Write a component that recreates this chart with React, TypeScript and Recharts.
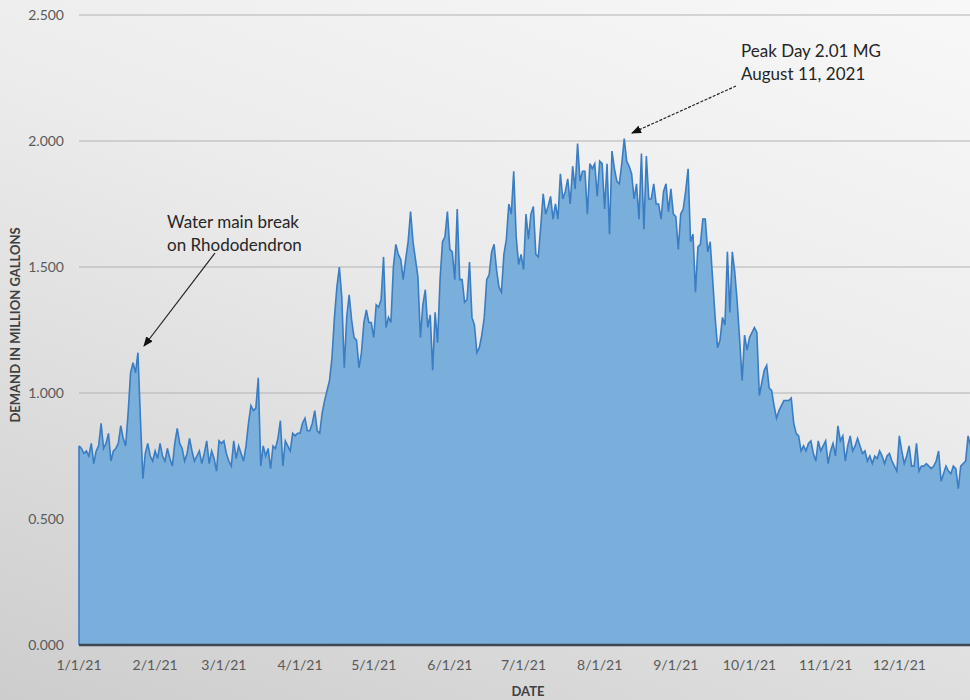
import React from 'react';
import { AreaChart, Area, XAxis, YAxis, CartesianGrid, ReferenceLine } from 'recharts';

// Daily demand in million gallons, 2021
const jan = [0.79, 0.78, 0.76, 0.77, 0.75, 0.80, 0.72, 0.77, 0.79, 0.88, 0.78, 0.80, 0.84, 0.73, 0.77, 0.78, 0.80, 0.87, 0.82, 0.79, 0.92, 1.08, 1.12, 1.08, 1.16, 0.90, 0.66, 0.76, 0.80, 0.75, 0.73];
const feb = [0.77, 0.74, 0.80, 0.75, 0.73, 0.78, 0.74, 0.71, 0.80, 0.86, 0.80, 0.78, 0.73, 0.76, 0.82, 0.77, 0.73, 0.75, 0.77, 0.72, 0.76, 0.81, 0.72, 0.77, 0.74, 0.69, 0.81, 0.80];
const mar = [0.81, 0.76, 0.73, 0.71, 0.81, 0.74, 0.79, 0.76, 0.73, 0.79, 0.88, 0.95, 0.93, 0.94, 1.06, 0.71, 0.79, 0.75, 0.78, 0.70, 0.79, 0.78, 0.82, 0.89, 0.71, 0.81, 0.79, 0.77, 0.84, 0.83, 0.84];
const apr = [0.84, 0.88, 0.90, 0.85, 0.85, 0.88, 0.93, 0.85, 0.84, 0.92, 0.97, 1.01, 1.05, 1.14, 1.30, 1.42, 1.50, 1.38, 1.10, 1.30, 1.39, 1.29, 1.22, 1.21, 1.10, 1.16, 1.28, 1.33, 1.28, 1.28];
const may = [1.22, 1.35, 1.34, 1.37, 1.54, 1.26, 1.30, 1.28, 1.50, 1.59, 1.55, 1.53, 1.45, 1.53, 1.60, 1.72, 1.60, 1.53, 1.46, 1.22, 1.35, 1.41, 1.26, 1.31, 1.09, 1.32, 1.20, 1.45, 1.60, 1.62, 1.72];
const jun = [1.57, 1.56, 1.45, 1.73, 1.45, 1.45, 1.36, 1.37, 1.52, 1.30, 1.27, 1.16, 1.18, 1.23, 1.30, 1.45, 1.47, 1.56, 1.59, 1.49, 1.42, 1.40, 1.55, 1.61, 1.75, 1.71, 1.88, 1.62, 1.51, 1.55];
const jul = [1.49, 1.71, 1.61, 1.71, 1.74, 1.55, 1.54, 1.66, 1.79, 1.71, 1.74, 1.78, 1.69, 1.75, 1.69, 1.87, 1.77, 1.80, 1.85, 1.75, 1.90, 1.81, 1.99, 1.84, 1.88, 1.88, 1.71, 1.91, 1.89, 1.91, 1.78];
const aug = [1.92, 1.91, 1.73, 1.91, 1.63, 1.96, 1.89, 1.84, 1.83, 1.91, 2.01, 1.92, 1.90, 1.87, 1.77, 1.83, 1.69, 1.95, 1.65, 1.94, 1.77, 1.77, 1.83, 1.75, 1.75, 1.69, 1.80, 1.83, 1.72, 1.81, 1.71];
const sep = [1.70, 1.57, 1.71, 1.73, 1.80, 1.89, 1.60, 1.63, 1.40, 1.58, 1.59, 1.69, 1.69, 1.56, 1.60, 1.45, 1.30, 1.18, 1.21, 1.30, 1.27, 1.56, 1.32, 1.56, 1.48, 1.36, 1.21, 1.05, 1.23, 1.17];
const oct = [1.22, 1.24, 1.26, 1.24, 0.99, 1.04, 1.09, 1.11, 1.02, 1.01, 0.95, 0.90, 0.93, 0.95, 0.97, 0.97, 0.97, 0.98, 0.88, 0.84, 0.83, 0.77, 0.79, 0.77, 0.80, 0.81, 0.76, 0.73, 0.81, 0.77, 0.79];
const nov = [0.81, 0.72, 0.77, 0.80, 0.75, 0.87, 0.81, 0.83, 0.73, 0.79, 0.83, 0.77, 0.79, 0.82, 0.79, 0.76, 0.77, 0.73, 0.75, 0.72, 0.75, 0.74, 0.77, 0.75, 0.72, 0.75, 0.76, 0.73, 0.71, 0.69];
const dec = [0.83, 0.77, 0.72, 0.75, 0.79, 0.71, 0.71, 0.80, 0.69, 0.71, 0.71, 0.72, 0.71, 0.70, 0.71, 0.73, 0.77, 0.65, 0.68, 0.71, 0.69, 0.68, 0.71, 0.70, 0.62, 0.71, 0.72, 0.73, 0.83, 0.79, 0.80];

const monthStartDays = [0, 31, 59, 90, 120, 151, 181, 212, 243, 273, 304, 334];
const monthTickLabels = ['1/1/21', '2/1/21', '3/1/21', '4/1/21', '5/1/21', '6/1/21', '7/1/21', '8/1/21', '9/1/21', '10/1/21', '11/1/21', '12/1/21'];
const yTicks = [0, 0.5, 1, 1.5, 2, 2.5];
const yTickLabels = ['0.000', '0.500', '1.000', '1.500', '2.000', '2.500'];

const demand = [...jan, ...feb, ...mar, ...apr, ...may, ...jun, ...jul, ...aug, ...sep, ...oct, ...nov, ...dec];
const data = demand.map((v, i) => ({ day: i, demand: v }));

const tickStyle = { fill: '#5a5a5a', fontSize: 14, fontFamily: 'Lato, "Open Sans", sans-serif' };
const noteStyle: React.CSSProperties = { fontFamily: 'Lato, "Open Sans", sans-serif', fontSize: 17, fill: '#262626' };
const titleStyle: React.CSSProperties = { fontFamily: 'Lato, "Open Sans", sans-serif', fontSize: 13, fontWeight: 700, fill: '#404040' };

export default function App() {
  return (
    <div
      style={{
        position: 'fixed',
        left: 0,
        top: 0,
        width: 970,
        height: 700,
        overflow: 'hidden',
        background: 'linear-gradient(200deg, #f8f8f8 0%, #ececec 40%, #dadada 75%, #cdcdcd 100%)',
      }}
    >
      <AreaChart
        width={980}
        height={700}
        data={data}
        margin={{ top: 15, right: 7, bottom: 0, left: 0 }}
      >
        <CartesianGrid horizontal vertical={false} stroke="#b2b2b2" strokeWidth={1} />
        <XAxis
          type="number"
          dataKey="day"
          domain={[0, 364]}
          ticks={monthStartDays}
          interval={0}
          tickFormatter={(v: number) => monthTickLabels[monthStartDays.indexOf(v)]}
          axisLine={{ stroke: '#3e4852', strokeWidth: 2.5 }}
          tickLine={false}
          tickSize={0}
          tickMargin={15}
          height={55}
          tick={tickStyle}
        />
        <YAxis
          type="number"
          domain={[0, 2.5]}
          ticks={yTicks}
          tickFormatter={(v: number) => yTickLabels[yTicks.indexOf(v)]}
          axisLine={false}
          tickLine={false}
          tickSize={0}
          tickMargin={15}
          width={79}
          tick={tickStyle}
        />
        <Area
          type="linear"
          dataKey="demand"
          stroke="#3a7dc2"
          strokeWidth={1.6}
          fill="#7aaedb"
          fillOpacity={1}
          dot={false}
          activeDot={false}
          isAnimationActive={false}
        />
        <ReferenceLine
          segment={[{ x: 0, y: 0 }, { x: 0, y: demand[0] }]}
          stroke="#3a7dc2"
          strokeWidth={1.6}
        />
      </AreaChart>
      <svg
        width={970}
        height={700}
        style={{ position: 'absolute', left: 0, top: 0, pointerEvents: 'none' }}
      >
        <defs>
          <marker id="ah" markerWidth="10" markerHeight="8" refX="9" refY="4" orient="auto" markerUnits="userSpaceOnUse">
            <path d="M0,0 L10,4 L0,8 Z" fill="#111" />
          </marker>
        </defs>
        <text x={167} y={228} style={noteStyle}>Water main break</text>
        <text x={167} y={251} style={noteStyle}>on Rhododendron</text>
        <line x1={215} y1={253} x2={144} y2={346} stroke="#222" strokeWidth={1.2} markerEnd="url(#ah)" />
        <text x={741} y={57} style={noteStyle}>Peak Day 2.01 MG</text>
        <text x={741} y={80} style={noteStyle}>August 11, 2021</text>
        <line x1={736} y1={86} x2={632} y2={133} stroke="#222" strokeWidth={1.2} strokeDasharray="3 1.5" markerEnd="url(#ah)" />
        <text
          x={15}
          y={325}
          transform="rotate(-90 15 325)"
          textAnchor="middle"
          dominantBaseline="central"
          style={titleStyle}
        >
          DEMAND IN MILLION GALLONS
        </text>
        <text x={528} y={691} textAnchor="middle" dominantBaseline="central" style={titleStyle}>
          DATE
        </text>
      </svg>
    </div>
  );
}
